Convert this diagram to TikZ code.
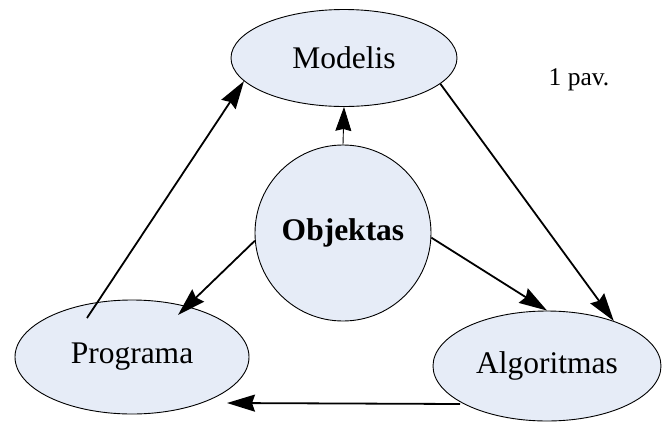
\documentclass[tikz,border=0pt]{standalone}
\usepackage{fontspec}
\setmainfont{Liberation Serif}
\usetikzlibrary{shapes.geometric,arrows.meta}
\definecolor{nodefill}{RGB}{230,236,247}
\tikzset{
  blob/.style={ellipse, draw=black, line width=0.9pt, fill=nodefill, inner sep=0pt,
    font=\fontsize{31.5}{36}\selectfont},
  arr/.style={line width=1.8pt, -{Stealth[length=28pt,width=17pt,inset=3pt]}},
  thinarr/.style={line width=0.9pt, -{Stealth[length=24pt,width=16pt,inset=2pt]}}
}
\begin{document}
\begin{tikzpicture}[x=1pt,y=-1pt]
\useasboundingbox (0,0) rectangle (665,421);
\node[blob, minimum width=226pt, minimum height=97pt] (mod) at (344,58) {Modelis};
\node[blob, circle, minimum size=176pt] (obj) at (343,233) {\bfseries Objektas};
\node[blob, minimum width=234pt, minimum height=114pt] (prog) at (132,357) {Programa};
\node[blob, minimum width=228pt, minimum height=110pt] (alg) at (547,366) {Algoritmas};
\node[font=\fontsize{25.5}{30}\selectfont] (cap) at (579,80) {1 pav.};
\coordinate (p1) at (87,318);
\coordinate (p5) at (178,315);
\coordinate (p6) at (227,403);
\coordinate (a6) at (460,404);
\draw[arr] (p1) -- (mod.193);
\draw[thinarr] (obj.north) -- (mod.south);
\draw[arr] (mod.345) -- (alg.34);
\draw[arr] (obj.-3) -- (alg.north);
\draw[arr] (obj.185) -- (p5);
\draw[arr] (a6) -- (p6);
\end{tikzpicture}
\end{document}
